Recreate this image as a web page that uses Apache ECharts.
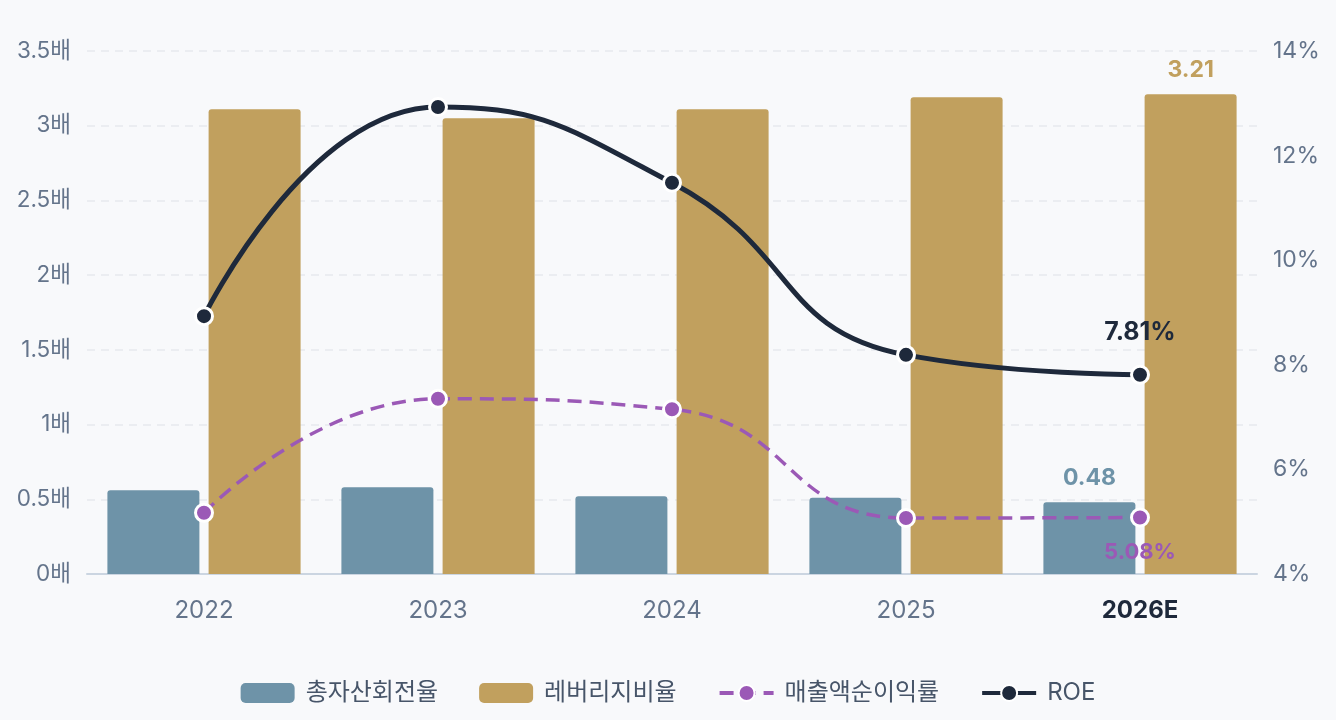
<!DOCTYPE html>
<html lang="ko">
<head>
<meta charset="UTF-8">
<title>재무비율</title>
<script src="https://cdn.jsdelivr.net/npm/echarts@6/dist/echarts.min.js"></script>
<style>
  html, body { margin: 0; padding: 0; background: #f8f9fb; }
  #main { width: 1336px; height: 720px; }
</style>
</head>
<body>
<div id="main"></div>
<script>
var years = ['2022', '2023', '2024', '2025', '2026E'];
var assetTurnover = [0.56, 0.58, 0.52, 0.51, 0.48];   // 총자산회전율 (배)
var leverage = [3.11, 3.05, 3.11, 3.19, 3.21];         // 레버리지비율 (배)
var netMargin = [5.17, 7.35, 7.15, 5.07, 5.08];        // 매출액순이익률 (%)
var roe = [8.93, 12.93, 11.48, 8.19, 7.81];            // ROE (%)

var FONT = 'Inter, "Noto Sans CJK KR", sans-serif';
var C_BLUE = '#6e93a8', C_GOLD = '#c1a05e', C_PURPLE = '#9b59b6', C_DARK = '#1e293b';

// only the last point gets a value label
function lastLabel(arr, labelOpt) {
  return arr.map(function (v, i) {
    if (i !== arr.length - 1) return v;
    return { value: v, label: labelOpt };
  });
}

var chart = echarts.init(document.getElementById('main'));
var option = {
  backgroundColor: '#f8f9fb',
  textStyle: { fontFamily: FONT },
  grid: { left: 87, right: 79, top: 51, bottom: 146 },
  legend: {
    bottom: 10,
    itemWidth: 54,
    itemHeight: 20,
    itemGap: 41,
    lineStyle: { width: 4 },
    textStyle: { fontSize: 24, color: '#475569', fontFamily: FONT, padding: [0, 0, 0, 6] },
    data: ['총자산회전율', '레버리지비율', '매출액순이익률', 'ROE']
  },
  xAxis: {
    type: 'category',
    data: years,
    axisLine: { lineStyle: { color: '#cbd5e1', width: 2 } },
    axisTick: { show: false },
    axisLabel: {
      fontSize: 24, color: '#64748b', margin: 25,
      formatter: function (v) { return v === '2026E' ? '{b|' + v + '}' : v; },
      rich: { b: { fontSize: 24, fontWeight: 'bold', color: C_DARK, fontFamily: FONT } }
    }
  },
  yAxis: [
    {
      type: 'value', min: 0, max: 3.5, interval: 0.5,
      axisLine: { show: false }, axisTick: { show: false },
      axisLabel: { fontSize: 22.5, color: '#64748b', margin: 16, formatter: function (v) { return v + '배'; } },
      splitLine: { lineStyle: { color: '#e6e9ee', type: [8, 6], width: 1.5 } }
    },
    {
      type: 'value', min: 4, max: 14, interval: 2,
      axisLine: { show: false }, axisTick: { show: false },
      axisLabel: { fontSize: 23, color: '#64748b', margin: 16, formatter: '{value}%' },
      splitLine: { show: false }
    }
  ],
  series: [
    {
      name: '총자산회전율', type: 'bar', yAxisIndex: 0,
      barWidth: 92, barGap: '10%',
      itemStyle: { color: C_BLUE, borderRadius: [3, 3, 0, 0] },
      data: lastLabel(assetTurnover, {
        show: true, position: 'top', distance: 13,
        color: C_BLUE, fontSize: 23, fontWeight: 'bold'
      })
    },
    {
      name: '레버리지비율', type: 'bar', yAxisIndex: 0,
      barWidth: 92,
      itemStyle: { color: C_GOLD, borderRadius: [3, 3, 0, 0] },
      data: lastLabel(leverage, {
        show: true, position: 'top', distance: 13,
        color: C_GOLD, fontSize: 23, fontWeight: 'bold'
      })
    },
    {
      name: '매출액순이익률', type: 'line', yAxisIndex: 1, smooth: true,
      symbol: 'circle', symbolSize: 17,
      lineStyle: { color: C_PURPLE, width: 3.5, type: [14, 8] },
      itemStyle: { color: C_PURPLE, borderColor: '#fff', borderWidth: 3 },
      data: lastLabel(netMargin, {
        show: true, position: 'bottom', distance: 14,
        color: C_PURPLE, fontSize: 22, fontWeight: 'bold',
        formatter: function (p) { return p.value.toFixed(2) + '%'; }
      }),
      z: 5
    },
    {
      name: 'ROE', type: 'line', yAxisIndex: 1, smooth: true,
      symbol: 'circle', symbolSize: 17,
      lineStyle: { color: C_DARK, width: 5 },
      itemStyle: { color: C_DARK, borderColor: '#fff', borderWidth: 3 },
      data: lastLabel(roe, {
        show: true, position: 'top', distance: 20,
        color: C_DARK, fontSize: 25, fontWeight: 'bold',
        formatter: function (p) { return p.value.toFixed(2) + '%'; }
      }),
      z: 6
    }
  ]
};
chart.setOption(option);
</script>
</body>
</html>
